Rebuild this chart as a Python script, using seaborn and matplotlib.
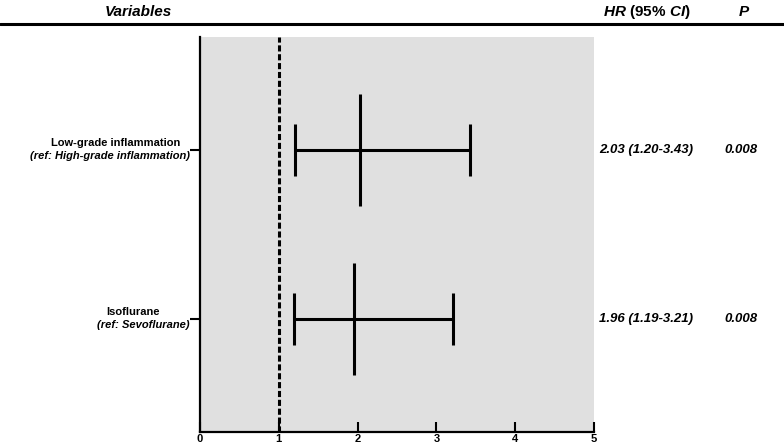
import matplotlib
matplotlib.use("Agg")
import matplotlib.pyplot as plt
import matplotlib.transforms as mtransforms
import seaborn as sns
import pandas as pd
import numpy as np

# ---- data ----
variables = ["Low-grade inflammation", "Isoflurane"]
references = ["(ref: High-grade inflammation)", "(ref: Sevoflurane)"]
hr = [2.03, 1.96]
ci_low = [1.20, 1.19]
ci_high = [3.43, 3.21]
hr_text = ["2.03 (1.20-3.43)", "1.96 (1.19-3.21)"]
p_text = ["0.008", "0.008"]
x_ticks = [0, 1, 2, 3, 4, 5]

sns.set_theme(style="white")
plt.rcParams["font.family"] = ["Liberation Sans", "DejaVu Sans"]
plt.rcParams["text.color"] = "black"
plt.rcParams["xtick.color"] = "black"
plt.rcParams["ytick.color"] = "black"
plt.rcParams["mathtext.fontset"] = "custom"
plt.rcParams["mathtext.bf"] = "Liberation Sans:bold"
plt.rcParams["mathtext.bfit"] = "Liberation Sans:bold:italic"
plt.rcParams["mathtext.it"] = "Liberation Sans:bold:italic"
plt.rcParams["mathtext.rm"] = "Liberation Sans:bold"

W, H = 784, 445
fig = plt.figure(figsize=(W / 100, H / 100), dpi=100)
ax_l, ax_r, ax_t, ax_b = 200, 594, 37, 432
ax = fig.add_axes([ax_l / W, 1 - ax_b / H, (ax_r - ax_l) / W, (ax_b - ax_t) / H])
ax.set_facecolor("#e0e0e0")

rows = np.arange(len(variables))
df = pd.DataFrame({"hr": hr, "row": rows, "lo": ci_low, "hi": ci_high})

lw = 2.2
# CI lines with caps
ax.errorbar(df["hr"], df["row"],
            xerr=[df["hr"] - df["lo"], df["hi"] - df["hr"]],
            fmt="none", ecolor="black", elinewidth=lw, capsize=19,
            capthick=lw, zorder=3)
# point estimates as tall vertical markers
sns.scatterplot(data=df, x="hr", y="row", marker="|", s=81 ** 2,
                color="black", linewidth=lw, ax=ax, zorder=4, legend=False)

# reference line
ax.axvline(1, ymin=0, ymax=1, color="black", lw=lw, dashes=(2.0, 0.9), zorder=2)

ax.set_xlim(0, 5)
pad = 113 / 169
ax.set_ylim(len(variables) - 1 + pad, -pad)
ax.set_xticks(x_ticks)
ax.set_xticklabels([str(t) for t in x_ticks], fontweight="bold", fontsize=8)
ax.set_yticks(rows)
ax.set_yticklabels([])
ax.set_xlabel("")
ax.set_ylabel("")
ax.tick_params(axis="x", direction="in", length=7, width=1.5, pad=1.5,
               color="black", bottom=True)
ax.tick_params(axis="y", direction="out", length=7, width=1.5, color="black", left=True)
for s in ["top", "right"]:
    ax.spines[s].set_visible(False)
for s in ["left", "bottom"]:
    ax.spines[s].set_visible(True)
    ax.spines[s].set_color("black")
    ax.spines[s].set_linewidth(1.6)

# x in figure fraction, y in data
px = mtransforms.blended_transform_factory(fig.transFigure, ax.transData)


def fx(x):
    return x / W


line1_cx = [116, 133]
for i, (v, r) in enumerate(zip(variables, references)):
    ax.annotate(v, xy=(fx(line1_cx[i]), rows[i]), xycoords=px, xytext=(0, 5),
                textcoords="offset points", ha="center", va="center",
                fontsize=8, fontweight="bold")
    ax.annotate(r, xy=(fx(190), rows[i]), xycoords=px, xytext=(0, -4.5),
                textcoords="offset points", ha="right", va="center",
                fontsize=8, fontweight="bold", fontstyle="italic")
    ax.text(fx(646), rows[i], hr_text[i], transform=px, ha="center", va="center",
            fontsize=9.5, fontweight="bold", fontstyle="italic")
    ax.text(fx(741), rows[i], p_text[i], transform=px, ha="center", va="center",
            fontsize=9.5, fontweight="bold", fontstyle="italic")

# header
fig.text(fx(138), 1 - 12 / H, "Variables", ha="center", va="center",
         fontsize=11, fontweight="bold", fontstyle="italic")
fig.text(fx(647), 1 - 12 / H, r"$\mathbfit{HR}$ (95% $\mathbfit{CI}$)", ha="center",
         va="center", fontsize=11, fontweight="bold")
fig.text(fx(744), 1 - 12 / H, "P", ha="center", va="center",
         fontsize=11, fontweight="bold", fontstyle="italic")
fig.add_artist(plt.Line2D([0, 1], [1 - 24 / H, 1 - 24 / H], color="black", lw=2.2,
                          transform=fig.transFigure))

fig.savefig("out.png", dpi=100)
